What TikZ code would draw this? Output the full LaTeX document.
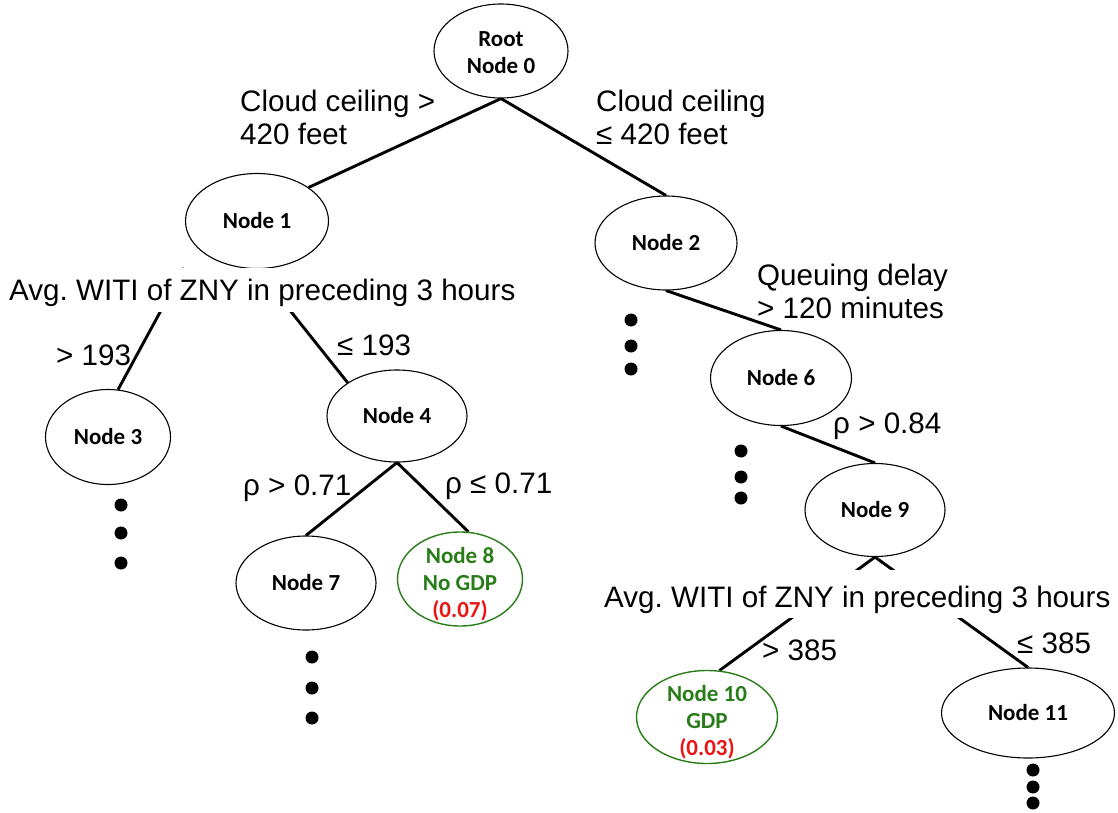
\documentclass[tikz,border=0pt]{standalone}
\usepackage{fontspec}
\setmainfont{Liberation Sans}
\newfontfamily\calfont{Carlito}
\usetikzlibrary{shapes.geometric,backgrounds}
\definecolor{leafgreen}{RGB}{40,125,25}
\definecolor{leafred}{RGB}{235,20,20}
\frenchspacing
\begin{document}
\begin{tikzpicture}[x=1pt,y=-1pt,
  tree/.style={ellipse, draw, line width=1.1pt, fill=white, inner sep=0pt},
  leaf/.style={tree, draw=leafgreen, line width=1.4pt},
  ntext/.style={font=\calfont\bfseries\fontsize{23}{27}\selectfont, align=center, inner sep=0pt},
  cond/.style={font=\fontsize{29.6}{33}\selectfont, align=left, anchor=base west, inner sep=0pt},
  wide/.style={cond, fill=white, inner xsep=4pt},
  edge/.style={line width=2.9pt}]
\useasboundingbox (0,0) rectangle (1118,813);

% tree nodes
\node[tree, minimum width=134pt, minimum height=94pt] (n0) at (501,51) {};
\node[ntext] (t0) at ([yshift=-2pt]n0.center) {Root\\Node 0};
\node[tree, minimum width=143pt, minimum height=95pt] (n1) at (257,221) {};
\node[ntext] (t1) at (n1) {Node 1};
\node[tree, minimum width=142pt, minimum height=94pt] (n2) at (666,243) {};
\node[ntext] (t2) at (n2) {Node 2};
\node[tree, minimum width=125pt, minimum height=95pt] (n3) at (108,437) {};
\node[ntext] (t3) at (n3) {Node 3};
\node[tree, minimum width=140pt, minimum height=92pt] (n4) at (397,416) {};
\node[ntext] (t4) at (n4) {Node 4};
\node[tree, minimum width=141pt, minimum height=95pt] (n6) at (781,378) {};
\node[ntext] (t6) at (n6) {Node 6};
\node[tree, minimum width=140pt, minimum height=94pt] (n7) at (306,583) {};
\node[ntext] (t7) at (n7) {Node 7};
\node[leaf, minimum width=125pt, minimum height=94pt] (n8) at (460,579) {};
\node[ntext, text=leafgreen] (t8) at ([yshift=-5pt]n8.center) {Node 8\\No GDP\\\textcolor{leafred}{(0.07)}};
\node[tree, minimum width=140pt, minimum height=93pt] (n9) at (875,510) {};
\node[ntext] (t9) at (n9) {Node 9};
\node[leaf, minimum width=141pt, minimum height=93pt] (n10) at (707,717) {};
\node[ntext, text=leafgreen] (t10) at ([yshift=-5pt]n10.center) {Node 10\\GDP\\\textcolor{leafred}{(0.03)}};
\node[tree, minimum width=173pt, minimum height=90pt] (n11) at (1028,713) {};
\node[ntext] (t11) at (n11) {Node 11};

\coordinate (j1) at (184,268);

% connectors
\begin{pgfonlayer}{background}
\draw[edge] (n0.south) -- (n1.33);
\draw[edge] (n0.south) -- (n2.north);
\draw[edge] (j1) -- (n3.78);
\draw[edge] (n1.south) -- (n4.146);
\draw[edge] (n2.south) -- (n6.north);
\draw[edge] (n4.south) -- (n7.north);
\draw[edge] (n4.south) -- (n8.80);
\draw[edge] (n6.south) -- (n9.north);
\draw[edge] (n9.south) -- (n10.75);
\draw[edge] (n9.south) -- (n11.north);
\end{pgfonlayer}

% split labels (base anchor = baseline of the last line)
\node[cond] (c1) at (240,145) {Cloud ceiling >\\420 feet};
\node[cond] (c2) at (596,145) {Cloud ceiling\\≤ 420 feet};
\node[cond] (c3) at (757,318) {Queuing delay\\> 120 minutes};
\node[wide, text height=32pt, text depth=12pt] (w1) at (5,300) {Avg. WITI of ZNY in preceding 3 hours};
\node[cond] (g1) at (56,365) {> 193};
\node[cond] (g2) at (337,355) {≤ 193};
\node[cond] (r1) at (243,495) {ρ > 0.71};
\node[cond] (r2) at (445,493) {ρ ≤ 0.71};
\node[cond] (r3) at (833,433) {ρ > 0.84};
\node[wide, text height=37pt, text depth=11pt] (w2) at (600,607) {Avg. WITI of ZNY in preceding 3 hours};
\node[cond] (g3) at (762,660) {> 385};
\node[cond] (g4) at (1017,653) {≤ 385};

% continuation dots
\foreach \x/\y in {631/320,631/346,631/369, 741/451,741/477,741/498,
  1033/770,1033/787,1033/803, 121/505,121/533,121/563,
  312/657,312/688,312/718}
  \fill (\x,\y) circle (6.5pt);
\end{tikzpicture}
\end{document}
